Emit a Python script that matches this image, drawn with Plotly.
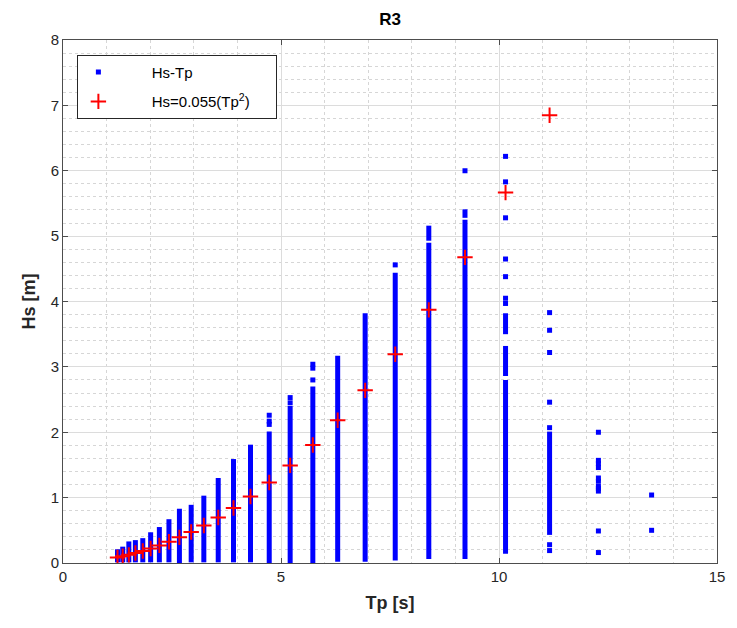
import plotly.graph_objects as go

# ---- data ----
# continuous stacks of Hs-Tp points (Tp bin, lowest Hs, highest Hs)
seg_tp = [1.25, 1.37, 1.51, 1.66, 1.83, 2.01, 2.21, 2.43, 2.67, 2.94, 3.23, 3.56,
          3.91, 4.30, 4.73, 5.21, 5.73, 6.30, 6.93, 7.62, 8.39, 8.39, 9.22, 9.22,
          10.15, 10.15, 10.15, 11.16]
seg_lo = [0.01, 0.01, 0.01, 0.01, 0.01, 0.01, 0.01, 0.01, 0.00, 0.01, 0.01, 0.01,
          0.01, 0.01, 0.00, 0.00, 0.00, 0.02, 0.02, 0.04, 0.06, 4.93, 0.06, 5.28,
          0.14, 2.86, 3.50, 0.43]
seg_hi = [0.21, 0.25, 0.33, 0.35, 0.38, 0.47, 0.55, 0.67, 0.83, 0.89, 1.03, 1.30,
          1.59, 1.81, 2.01, 2.40, 2.70, 3.17, 3.82, 4.44, 4.90, 5.16, 5.25, 5.41,
          2.80, 3.32, 3.82, 2.01]

# isolated Hs-Tp points
pt_tp = [4.73, 4.73, 4.73, 5.21, 5.21, 5.73, 5.73, 5.73, 7.62, 9.22,
         10.15, 10.15, 10.15, 10.15, 10.15, 10.15, 10.15,
         11.16, 11.16, 11.16, 11.16, 11.16, 11.16, 11.16,
         12.28, 12.28, 12.28, 12.28, 12.28, 12.28, 12.28, 12.28, 12.28, 12.28, 12.28,
         13.50, 13.50]
pt_hs = [2.12, 2.17, 2.26, 2.45, 2.53, 2.80, 2.98, 3.04, 4.56, 6.00,
         3.97, 4.05, 4.38, 4.65, 5.28, 5.83, 6.22,
         0.19, 0.28, 2.07, 2.46, 3.22, 3.56, 3.83,
         0.16, 0.49, 1.10, 1.14, 1.17, 1.25, 1.30, 1.46, 1.52, 1.57, 2.00,
         0.50, 1.04]

# fitted relation Hs = 0.055 Tp^2
fit_tp = [1.25, 1.37, 1.51, 1.66, 1.83, 2.01, 2.21, 2.43, 2.67, 2.94, 3.23, 3.56,
          3.91, 4.30, 4.73, 5.21, 5.73, 6.30, 6.93, 7.62, 8.39, 9.22, 10.15, 11.16]
fit_hs = [0.086, 0.103, 0.125, 0.152, 0.184, 0.222, 0.269, 0.325, 0.392, 0.475,
          0.574, 0.697, 0.841, 1.017, 1.231, 1.493, 1.806, 2.183, 2.641, 3.194,
          3.872, 4.675, 5.666, 6.850]

x_ticks = [0, 5, 10, 15]
y_ticks = [0, 1, 2, 3, 4, 5, 6, 7, 8]

BLUE = "#0000ff"
RED = "#ff0000"
TXT = "#262626"
FONT = "Liberation Sans, Arial, sans-serif"
NB = "\u00a0"

# build segment polyline with gaps
sx, sy = [], []
for t, lo, hi in zip(seg_tp, seg_lo, seg_hi):
    sx += [t, t, None]
    sy += [lo, hi, None]

fig = go.Figure()
fig.add_trace(go.Scatter(x=sx, y=sy, mode="lines", line=dict(color=BLUE, width=5),
                         showlegend=False, hoverinfo="skip"))
fig.add_trace(go.Scatter(x=pt_tp, y=pt_hs, mode="markers",
                         marker=dict(symbol="square", size=5, color=BLUE),
                         name=NB * 8 + "Hs-Tp",
                         legendgroup="a"))
fig.add_trace(go.Scatter(x=fit_tp, y=fit_hs, mode="markers",
                         marker=dict(symbol="cross-thin", size=11,
                                     line=dict(color=RED, width=2), color=RED),
                         name=NB * 8 + "Hs=0.055(Tp<sup>2</sup>)" + NB * 5,
                         legendgroup="b"))

axis_common = dict(
    showline=True, linecolor="#4d4d4d", linewidth=1, mirror="ticks",
    ticks="inside", ticklen=5, tickcolor="#4d4d4d",
    showgrid=True, gridcolor="#dcdcdc", gridwidth=1,
    zeroline=False,
    tickfont=dict(family=FONT, size=15, color=TXT),
)

fig.update_xaxes(range=[0, 15], tickvals=x_ticks,
                 minor=dict(dtick=1, showgrid=True, gridcolor="#d6d6d6", griddash="dot", ticks=""),
                 title=dict(text="<b>Tp [s]</b>", font=dict(family=FONT, size=18, color=TXT), standoff=12),
                 **axis_common)
fig.update_yaxes(range=[0, 8], tickvals=y_ticks,
                 minor=dict(dtick=0.2, showgrid=True, gridcolor="#d6d6d6", griddash="dot", ticks=""),
                 title=dict(text="<b>Hs [m]</b>", font=dict(family=FONT, size=18, color=TXT), standoff=10),
                 **axis_common)

fig.update_layout(
    width=737, height=628,
    margin=dict(l=63, r=13, t=40, b=65),
    plot_bgcolor="white", paper_bgcolor="white",
    title=dict(text="<b>R3</b>", x=0.5, xref="paper", y=0.97, yanchor="middle",
               font=dict(family=FONT, size=17, color="#000000")),
    legend=dict(x=0.022, y=0.972, xanchor="left", yanchor="top",
                bgcolor="white", bordercolor="#262626", borderwidth=1,
                font=dict(family=FONT, size=15, color="#000000"),
                traceorder="grouped", tracegroupgap=7),
    font=dict(family=FONT),
)

fig.write_html("out.html")
